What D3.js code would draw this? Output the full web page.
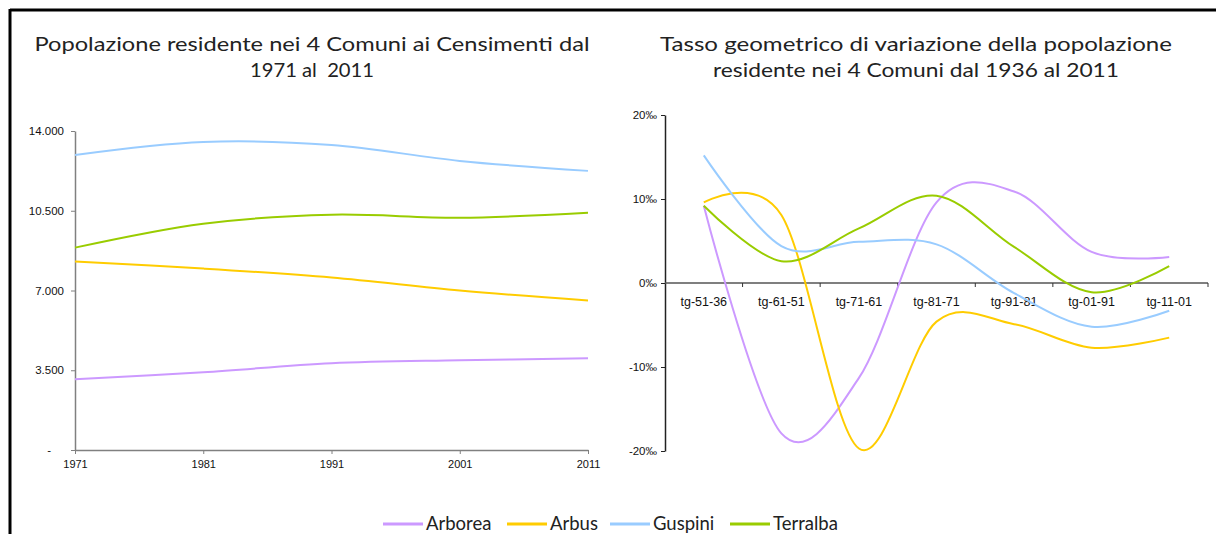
<!DOCTYPE html>
<html><head><meta charset="utf-8">
<script src="https://cdn.jsdelivr.net/npm/d3@7"></script>
<style>
html,body{margin:0;padding:0;background:#fff;}
svg{display:block;}
text{white-space:pre;}
</style>
</head><body>
<svg id="c" width="1216" height="534"></svg>
<script>
// ---- data ----
const years = [1971, 1981, 1991, 2001, 2011];
const popArborea  = [3106, 3412, 3806, 3937, 4025];
const popArbus    = [8269, 7962, 7569, 7000, 6562];
const popGuspini  = [12950, 13519, 13387, 12688, 12250];
const popTerralba = [8881, 9931, 10325, 10194, 10412];
const popTicks = [0, 3500, 7000, 10500, 14000];

const periods = ["tg-51-36", "tg-61-51", "tg-71-61", "tg-81-71", "tg-91-81", "tg-01-91", "tg-11-01"];
const rateArborea  = [9.2, -17.9, -11.3, 9.6, 10.9, 3.7, 3.1];
const rateArbus    = [9.6, 8.1, -19.7, -4.6, -4.9, -7.7, -6.5];
const rateGuspini  = [15.2, 4.4, 4.9, 4.6, -1.2, -5.2, -3.3];
const rateTerralba = [9.2, 2.6, 6.5, 10.4, 4.3, -1.1, 2.0];
const rateTicks = [-20, -10, 0, 10, 20];

const seriesNames = ["Arborea", "Arbus", "Guspini", "Terralba"];
const seriesColors = ["#CC99FF", "#FFCC00", "#99CCFF", "#99CC00"];

const popSeries = [popArborea, popArbus, popGuspini, popTerralba];
const rateSeries = [rateArborea, rateArbus, rateGuspini, rateTerralba];

// ---- drawing ----
const svg = d3.select("#c");
const titleFont = "'Century Gothic', Lato, 'DejaVu Sans', sans-serif";
const tickFont = "'Liberation Sans', Arial, sans-serif";

// frame
svg.append("line").attr("x1", 10).attr("x2", 1216).attr("y1", 10).attr("y2", 10)
  .attr("stroke", "#000").attr("stroke-width", 3);
svg.append("line").attr("x1", 10).attr("x2", 10).attr("y1", 9).attr("y2", 534)
  .attr("stroke", "#000").attr("stroke-width", 3);

function title(lines, cx, widths) {
  lines.forEach((t, i) => {
    svg.append("text").attr("x", cx).attr("y", 51 + i * 26)
      .attr("text-anchor", "middle")
      .attr("font-family", titleFont).attr("font-size", 20).attr("fill", "#222")
      .attr("textLength", widths[i]).attr("lengthAdjust", "spacingAndGlyphs")
      .text(t);
  });
}
title(["Popolazione residente nei 4 Comuni ai Censimenti dal", "1971 al  2011"], 312, [555, 124]);
title(["Tasso geometrico di variazione della popolazione", "residente nei 4 Comuni dal 1936 al 2011"], 916, [512, 406]);

const loc = d3.formatLocale({decimal: ",", thousands: ".", grouping: [3], currency: ["€", ""]});

// ---- left chart ----
const x1 = d3.scaleLinear().domain([1971, 2011]).range([75, 588]);
const y1 = d3.scaleLinear().domain([0, 14000]).range([450, 131]);

const gL = svg.append("g");
const ax1 = gL.append("g").attr("transform", "translate(75,0)")
  .call(d3.axisLeft(y1).tickValues(popTicks).tickSize(4).tickSizeOuter(0)
    .tickFormat(d => d === 0 ? "-" : loc.format(",")(d)));
ax1.select(".domain").attr("stroke", "#808080").attr("stroke-width", 1.5);
ax1.selectAll(".tick line").attr("stroke", "#808080");
ax1.selectAll(".tick text").attr("font-family", tickFont).attr("font-size", 11.5).attr("fill", "#111")
  .attr("x", -11);
ax1.selectAll(".tick text").filter(d => d === 0).attr("x", -24);

const bx1 = gL.append("g").attr("transform", "translate(0,450)")
  .call(d3.axisBottom(x1).tickValues(years).tickSize(4).tickSizeOuter(0).tickFormat(d3.format("d")));
bx1.select(".domain").attr("stroke", "#808080").attr("stroke-width", 1.5);
bx1.selectAll(".tick line").attr("stroke", "#808080");
bx1.selectAll(".tick text").attr("font-family", tickFont).attr("font-size", 11).attr("fill", "#111").attr("y", 10);

const lineL = d3.line().x((d, i) => x1(years[i])).y(d => y1(d)).curve(d3.curveCardinal.tension(0));
popSeries.forEach((s, k) => {
  gL.append("path").attr("d", lineL(s)).attr("fill", "none")
    .attr("stroke", seriesColors[k]).attr("stroke-width", 2);
});

// ---- right chart ----
const x2 = d3.scaleBand().domain(periods).range([665, 1208]);
const y2 = d3.scaleLinear().domain([-20, 20]).range([451, 115]);

const gR = svg.append("g");
const ax2 = gR.append("g").attr("transform", "translate(665,0)")
  .call(d3.axisLeft(y2).tickValues(rateTicks).tickSize(4).tickSizeOuter(0).tickFormat(d => d + "‰"));
ax2.select(".domain").attr("stroke", "#222").attr("stroke-width", 1.5);
ax2.selectAll(".tick line").attr("stroke", "#222");
ax2.selectAll(".tick text").attr("font-family", tickFont).attr("font-size", 11.5).attr("fill", "#111").attr("x", -8);

// category axis at zero
const xa = gR.append("g").attr("transform", `translate(0,${y2(0)})`);
xa.append("line").attr("x1", 665).attr("x2", 1208).attr("y1", 0).attr("y2", 0)
  .attr("stroke", "#555").attr("stroke-width", 1.5);
periods.forEach((p, i) => {
  const xb = x2(p) + x2.bandwidth();
  xa.append("line").attr("x1", xb).attr("x2", xb).attr("y1", 0).attr("y2", 4).attr("stroke", "#333");
  xa.append("text").attr("x", x2(p) + x2.bandwidth() / 2).attr("y", 23)
    .attr("text-anchor", "middle").attr("font-family", tickFont).attr("font-size", 12.5).attr("fill", "#111")
    .text(p);
});

const lineR = d3.line().x((d, i) => x2(periods[i]) + x2.bandwidth() / 2).y(d => y2(d))
  .curve(d3.curveCardinal.tension(0));
rateSeries.forEach((s, k) => {
  gR.append("path").attr("d", lineR(s)).attr("fill", "none")
    .attr("stroke", seriesColors[k]).attr("stroke-width", 2);
});

// ---- legend ----
const legX = [383, 507, 610, 730];
const lg = svg.append("g");
seriesNames.forEach((n, k) => {
  lg.append("line").attr("x1", legX[k]).attr("x2", legX[k] + 40).attr("y1", 524).attr("y2", 524)
    .attr("stroke", seriesColors[k]).attr("stroke-width", 3);
  lg.append("text").attr("x", legX[k] + 43).attr("y", 530)
    .attr("font-family", titleFont).attr("font-size", 18.5).attr("fill", "#222").text(n);
});
</script>
</body></html>
